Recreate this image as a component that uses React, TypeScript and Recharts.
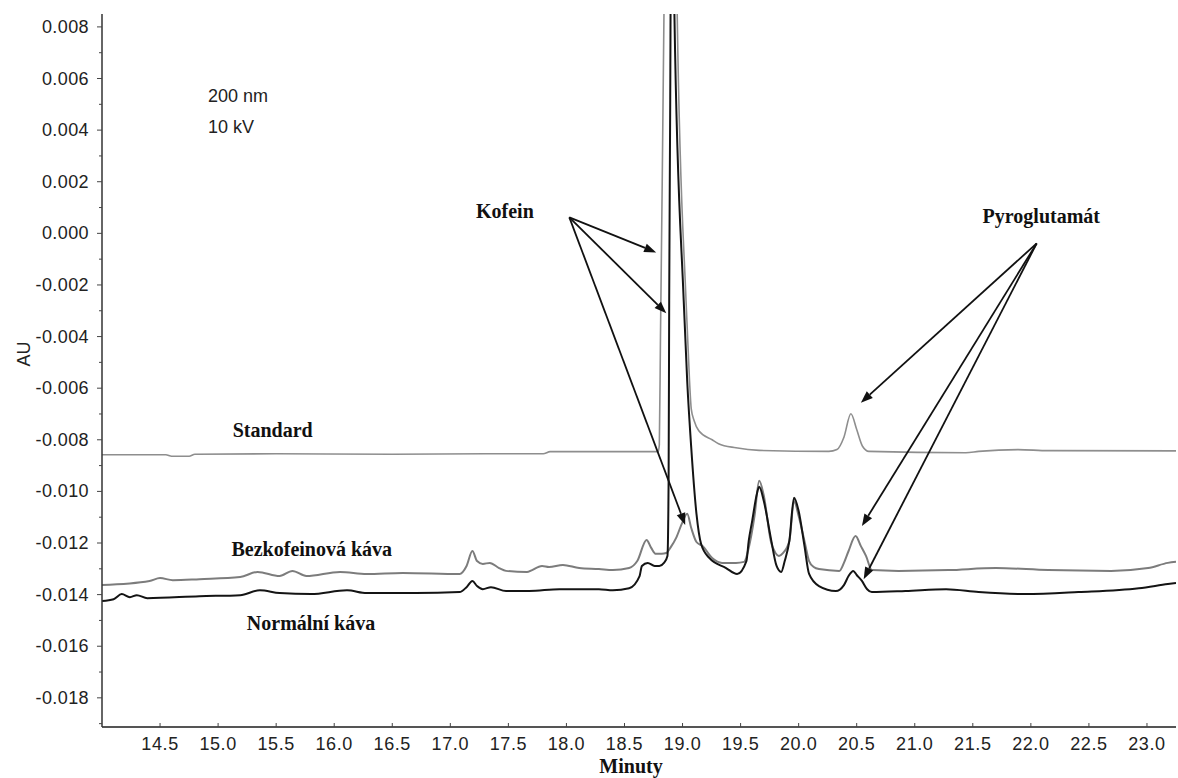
import React from 'react';
import { LineChart, Line, XAxis, YAxis, ReferenceLine, ReferenceDot } from 'recharts';

// ---- data (time in min, absorbance in AU) ----
const standardTrace: [number, number][] = [
  [14.0, -0.00858], [14.55, -0.00858], [14.6, -0.00864], [14.75, -0.00864], [14.8, -0.00856],
  [15.5, -0.00854], [16.5, -0.00856], [17.3, -0.00854], [17.8, -0.00854], [17.86, -0.00846],
  [18.79, -0.00846], [18.8, -0.0082], [18.81, -0.004], [18.825, 0.002], [18.84, 0.0085],
  [18.9, 0.03], [18.954, 0.0085], [19.03, -0.0026], [19.06, -0.00571], [19.075, -0.0068],
  [19.1, -0.00726], [19.14, -0.00765], [19.255, -0.008], [19.31, -0.00815], [19.46, -0.00831],
  [19.66, -0.00841], [20.26, -0.00845], [20.33, -0.00838], [20.39, -0.0079], [20.45, -0.00699],
  [20.5, -0.0076], [20.55, -0.00825], [20.605, -0.00845], [21.44, -0.0085], [21.55, -0.00845],
  [21.89, -0.00838], [22.15, -0.00842], [23.25, -0.00843],
];

const decafTrace: [number, number][] = [
  [14.0, -0.01363], [14.41, -0.01347], [14.5, -0.01336], [14.61, -0.01344], [14.84, -0.0134],
  [15.19, -0.01332], [15.34, -0.01312], [15.53, -0.01328], [15.64, -0.01308], [15.76, -0.01328],
  [16.05, -0.01312], [16.28, -0.0132], [16.59, -0.01316], [17.08, -0.0132], [17.14, -0.01289],
  [17.19, -0.01231], [17.23, -0.0127], [17.28, -0.01281], [17.34, -0.01277], [17.42, -0.01297],
  [17.48, -0.01308], [17.66, -0.01312], [17.79, -0.01289], [17.85, -0.01293], [17.97, -0.01285],
  [18.11, -0.01297], [18.28, -0.01301], [18.4, -0.01305], [18.54, -0.01297], [18.61, -0.0127],
  [18.69, -0.01188], [18.73, -0.01219], [18.77, -0.01242], [18.82, -0.01242], [18.86, -0.01239],
  [18.9, -0.01215], [18.945, -0.0118], [18.997, -0.01122], [19.04, -0.01087], [19.075, -0.01142],
  [19.12, -0.01196], [19.17, -0.01211], [19.255, -0.01258], [19.34, -0.01277], [19.46, -0.01277],
  [19.53, -0.01273], [19.57, -0.01219], [19.62, -0.01095], [19.66, -0.00959], [19.7, -0.01017],
  [19.76, -0.01192], [19.8, -0.01239], [19.83, -0.0125], [19.865, -0.01239], [19.92, -0.01192],
  [19.96, -0.01037], [20.0, -0.01095], [20.05, -0.01192], [20.09, -0.0127], [20.13, -0.01293],
  [20.175, -0.01301], [20.35, -0.01308], [20.39, -0.01277], [20.43, -0.01231], [20.49, -0.01173],
  [20.535, -0.01211], [20.58, -0.0125], [20.63, -0.01305], [20.86, -0.01308], [21.29, -0.01305],
  [21.7, -0.01297], [22.15, -0.01305], [22.69, -0.01308], [23.01, -0.01297], [23.18, -0.01277],
  [23.25, -0.01273],
];

const normalTrace: [number, number][] = [
  [14.0, -0.01425], [14.1, -0.01418], [14.17, -0.01398], [14.24, -0.0141], [14.3, -0.01402],
  [14.39, -0.01414], [14.84, -0.01406], [15.19, -0.01402], [15.36, -0.01383], [15.53, -0.01394],
  [15.8, -0.01398], [16.11, -0.01383], [16.28, -0.01394], [16.7, -0.01394], [17.08, -0.0139],
  [17.14, -0.01371], [17.19, -0.01347], [17.23, -0.01367], [17.28, -0.01379], [17.35, -0.01371],
  [17.48, -0.01386], [17.68, -0.01386], [17.94, -0.01379], [18.28, -0.01379], [18.4, -0.01383],
  [18.54, -0.01375], [18.63, -0.01328], [18.65, -0.01289], [18.7, -0.01277], [18.76, -0.01289],
  [18.8, -0.01289], [18.84, -0.01277], [18.87, -0.0125], [18.88, -0.00959], [18.885, -0.0026],
  [18.894, 0.0052], [18.915, 0.03], [18.93, 0.0085], [19.01, -0.0026], [19.04, -0.00571],
  [19.075, -0.00831], [19.12, -0.01087], [19.16, -0.01204], [19.23, -0.01258], [19.375, -0.01297],
  [19.47, -0.0132], [19.55, -0.0127], [19.57, -0.01192], [19.6, -0.01114], [19.64, -0.0101],
  [19.66, -0.00982], [19.7, -0.01037], [19.76, -0.0118], [19.81, -0.01289], [19.85, -0.01312],
  [19.88, -0.0127], [19.92, -0.01192], [19.96, -0.01025], [20.0, -0.01076], [20.05, -0.01211],
  [20.09, -0.0132], [20.175, -0.01367], [20.32, -0.01386], [20.39, -0.01363], [20.43, -0.01328],
  [20.47, -0.01308], [20.5, -0.01324], [20.545, -0.01347], [20.59, -0.01379], [20.63, -0.0139],
  [20.92, -0.01386], [21.27, -0.01379], [21.55, -0.0139], [21.95, -0.01398], [22.41, -0.0139],
  [22.93, -0.01375], [23.18, -0.01359], [23.25, -0.01355],
];

const xTicks = [14.5, 15.0, 15.5, 16.0, 16.5, 17.0, 17.5, 18.0, 18.5, 19.0, 19.5, 20.0, 20.5, 21.0, 21.5, 22.0, 22.5, 23.0];
const yMajorTicks = [-0.018, -0.016, -0.014, -0.012, -0.01, -0.008, -0.006, -0.004, -0.002, 0, 0.002, 0.004, 0.006, 0.008];
const yMinorTicks = [-0.019, -0.017, -0.015, -0.013, -0.011, -0.009, -0.007, -0.005, -0.003, -0.001, 0.001, 0.003, 0.005, 0.007];

const xDomain: [number, number] = [14.0, 23.25];
const yDomain: [number, number] = [-0.01913, 0.0085];

// annotation anchors (data coordinates)
const kofeinOrigin: [number, number] = [18.025, 0.00062];
const kofeinTargets: [number, number][] = [[18.773, -0.00074], [18.86, -0.0031], [19.023, -0.0113]];
const pyroOrigin: [number, number] = [22.05, -0.00039];
const pyroTargets: [number, number][] = [[20.536, -0.00656], [20.545, -0.01134], [20.56, -0.0134]];

const boldLabels: { text: string; t: number; v: number }[] = [
  { text: 'Kofein', t: 17.47, v: 0.00086 },
  { text: 'Pyroglutamát', t: 22.09, v: 0.00066 },
  { text: 'Standard', t: 15.47, v: -0.00763 },
  { text: 'Bezkofeinová káva', t: 15.807, v: -0.01223 },
  { text: 'Normální káva', t: 15.8, v: -0.0151 },
];
const conditionLabels: { text: string; t: number; v: number }[] = [
  { text: '200 nm', t: 14.913, v: 0.00532 },
  { text: '10 kV', t: 14.913, v: 0.00412 },
];

const toRows = (arr: [number, number][]) => arr.map(([t, v]) => ({ t, v }));
const standardData = toRows(standardTrace);
const decafData = toRows(decafTrace);
const normalData = toRows(normalTrace);
const yTicks = [...yMinorTicks, ...yMajorTicks].sort((a, b) => a - b);

const SANS = 'Liberation Sans, Arial, Helvetica, sans-serif';
const SERIF = 'Liberation Serif, Times New Roman, serif';

const YTick = (props: any) => {
  const { x, y, payload } = props;
  const val = Number(payload.value);
  const isMajor = yMajorTicks.some((m) => Math.abs(m - val) < 1e-9);
  return (
    <g>
      <line x1={x - (isMajor ? 5 : 3)} x2={x} y1={y} y2={y} stroke="#444" strokeWidth={1} />
      {isMajor && (
        <text x={x - 13} y={y + 6} textAnchor="end" fontSize={18} fill="#222" fontFamily={SANS} letterSpacing={0.4}>
          {val.toFixed(3)}
        </text>
      )}
    </g>
  );
};

const XTick = (props: any) => {
  const { x, y, payload } = props;
  const val = Number(payload.value);
  return (
    <g>
      <line x1={x} x2={x} y1={y} y2={y - 4} stroke="#444" strokeWidth={1} />
      <text x={x} y={y + 23} textAnchor="middle" fontSize={18} fill="#222" fontFamily={SANS} letterSpacing={0.6}>
        {val.toFixed(1)}
      </text>
    </g>
  );
};

const arrowShape = (props: any) => {
  const { x1, y1, x2, y2 } = props;
  const dx = x2 - x1;
  const dy = y2 - y1;
  const len = Math.hypot(dx, dy) || 1;
  const ux = dx / len;
  const uy = dy / len;
  const head = 12;
  const half = 4.5;
  const bx = x2 - ux * head;
  const by = y2 - uy * head;
  const px = -uy;
  const py = ux;
  return (
    <g>
      <line x1={x1} y1={y1} x2={bx} y2={by} stroke="#111" strokeWidth={1.8} />
      <polygon
        points={`${x2},${y2} ${bx + px * half},${by + py * half} ${bx - px * half},${by - py * half}`}
        fill="#111"
      />
    </g>
  );
};

export default function App() {
  return (
    <div style={{ position: 'absolute', left: 0, top: 0, width: 1178, height: 778, background: '#fff' }}>
      <LineChart width={1178} height={778} data={normalData} margin={{ top: 14, right: 2, bottom: 0, left: 0 }}>
        <XAxis
          dataKey="t"
          type="number"
          domain={xDomain}
          allowDataOverflow
          ticks={xTicks}
          interval={0}
          height={51}
          tickSize={0}
          tickMargin={0}
          tickLine={false}
          tick={<XTick />}
          axisLine={{ stroke: '#555', strokeWidth: 2 }}
          label={{
            content: (p: any) => {
              const vb = p.viewBox || { x: 102, y: 727, width: 1074 };
              return (
                <text x={vb.x + vb.width / 2 - 8} y={vb.y + 46} textAnchor="middle" fontFamily={SERIF} fontWeight="bold" fontSize={20} fill="#111">
                  Minuty
                </text>
              );
            },
          }}
        />
        <XAxis
          xAxisId="top"
          orientation="top"
          type="number"
          domain={xDomain}
          height={0}
          tick={false}
          tickLine={false}
          axisLine={{ stroke: '#444', strokeWidth: 2 }}
        />
        <YAxis
          type="number"
          domain={yDomain}
          allowDataOverflow
          ticks={yTicks}
          interval={0}
          width={102}
          tickSize={0}
          tickMargin={0}
          tickLine={false}
          tick={<YTick />}
          axisLine={{ stroke: '#333', strokeWidth: 1.5 }}
          label={{
            content: (p: any) => {
              const vb = p.viewBox || { x: 0, y: 14 };
              const cx = vb.x + 24;
              const cy = vb.y + 340;
              return (
                <text x={cx} y={cy} transform={`rotate(-90 ${cx} ${cy})`} textAnchor="middle" dominantBaseline="central" fontFamily={SANS} fontSize={18} fill="#222">
                  AU
                </text>
              );
            },
          }}
        />
        <Line data={standardData} dataKey="v" type="monotone" stroke="#8e8e8e" strokeWidth={1.6} dot={false} activeDot={false} isAnimationActive={false} />
        <Line data={decafData} dataKey="v" type="monotone" stroke="#7c7c7c" strokeWidth={2} dot={false} activeDot={false} isAnimationActive={false} />
        <Line data={normalData} dataKey="v" type="monotone" stroke="#141414" strokeWidth={2} dot={false} activeDot={false} isAnimationActive={false} />

        {kofeinTargets.map(([t, v], i) => (
          <ReferenceLine key={`k${i}`} segment={[{ x: kofeinOrigin[0], y: kofeinOrigin[1] }, { x: t, y: v }]} shape={arrowShape} ifOverflow="visible" />
        ))}
        {pyroTargets.map(([t, v], i) => (
          <ReferenceLine key={`p${i}`} segment={[{ x: pyroOrigin[0], y: pyroOrigin[1] }, { x: t, y: v }]} shape={arrowShape} ifOverflow="visible" />
        ))}

        {boldLabels.map((l) => (
          <ReferenceDot
            key={l.text}
            x={l.t}
            y={l.v}
            r={0}
            ifOverflow="visible"
            shape={(p: any) => (
              <text x={p.cx} y={p.cy + 7} textAnchor="middle" fontFamily={SERIF} fontWeight="bold" fontSize={20} fill="#111">
                {l.text}
              </text>
            )}
          />
        ))}
        {conditionLabels.map((l) => (
          <ReferenceDot
            key={l.text}
            x={l.t}
            y={l.v}
            r={0}
            ifOverflow="visible"
            shape={(p: any) => (
              <text x={p.cx} y={p.cy + 6} textAnchor="start" fontFamily={SANS} fontSize={18} fill="#222">
                {l.text}
              </text>
            )}
          />
        ))}
      </LineChart>
    </div>
  );
}
